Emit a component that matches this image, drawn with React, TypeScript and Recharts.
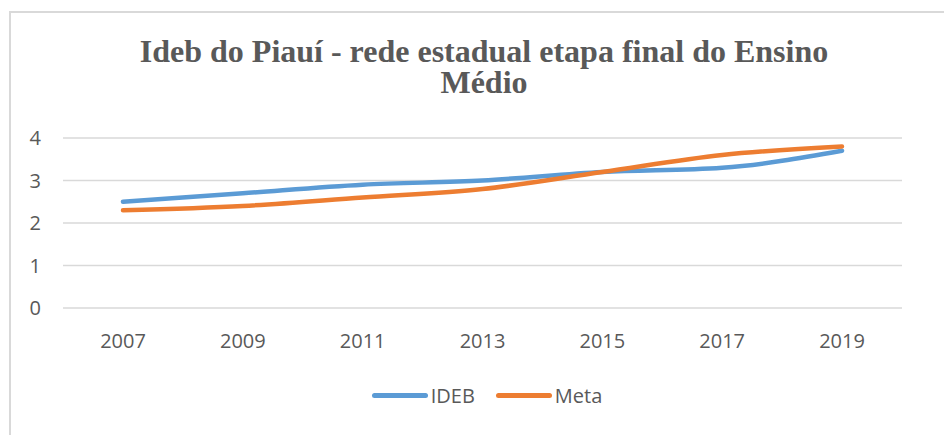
import { CartesianGrid, Legend, Line, LineChart, XAxis, YAxis } from "recharts"

const years = ["2007", "2009", "2011", "2013", "2015", "2017", "2019"]
const ideb = [2.5, 2.7, 2.9, 3.0, 3.2, 3.3, 3.7]
const meta = [2.3, 2.4, 2.6, 2.8, 3.2, 3.6, 3.8]
const yTicks = [0, 1, 2, 3, 4]

const data = years.map((year, i) => ({ year, IDEB: ideb[i], Meta: meta[i] }))

const tickFont = { fontFamily: "'Open Sans', sans-serif", fontSize: 20, fill: "#595959" }

function LegendContent({ payload }: any) {
  return (
    <div style={{ display: "flex", justifyContent: "center", gap: 21, transform: "translateX(36px)", fontFamily: "'Open Sans', sans-serif", fontSize: 20, color: "#595959" }}>
      {(payload || []).map((p: any) => (
        <div key={p.value} style={{ display: "flex", alignItems: "center", gap: 3 }}>
          <span style={{ display: "inline-block", width: 56, height: 5, borderRadius: 3, background: p.color }} />
          <span>{p.value}</span>
        </div>
      ))}
    </div>
  )
}

export default function App() {
  return (
    <div style={{ position: "absolute", left: 0, top: 0, width: 944, height: 435, background: "#fff", overflow: "hidden" }}>
      <div style={{ position: "absolute", left: 9, top: 11, width: 960, height: 460, border: "2px solid #d9d9d9" }} />
      <div
        style={{
          position: "absolute",
          left: 3,
          top: 36,
          width: 962,
          textAlign: "center",
          fontFamily: "'Liberation Serif', 'Times New Roman', serif",
          fontWeight: "bold",
          fontSize: 32,
          lineHeight: "31px",
          color: "#595959",
        }}
      >
        Ideb do Piauí - rede estadual etapa final do Ensino
        <br />
        Médio
      </div>
      <LineChart width={944} height={435} data={data} margin={{ top: 138, right: 42, left: 0, bottom: 23 }} style={{ position: "absolute", left: 0, top: 0 }}>
        <CartesianGrid vertical={false} stroke="#d9d9d9" strokeWidth={1.5} />
        <XAxis dataKey="year" axisLine={false} tickLine={false} tick={tickFont} tickMargin={20} height={74} padding={{ left: 60, right: 60 }} />
        <YAxis domain={[0, 4]} ticks={yTicks} axisLine={false} tickLine={false} tick={tickFont} tickMargin={16} width={63} />
        <Legend content={<LegendContent />} verticalAlign="bottom" height={30} />
        <Line type="monotone" dataKey="IDEB" stroke="#5B9BD5" strokeWidth={4.5} dot={false} strokeLinecap="round" isAnimationActive={false} />
        <Line type="monotone" dataKey="Meta" stroke="#ED7D31" strokeWidth={4.5} dot={false} strokeLinecap="round" isAnimationActive={false} />
      </LineChart>
    </div>
  )
}
